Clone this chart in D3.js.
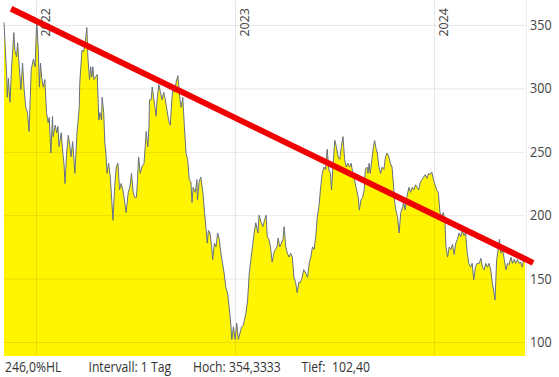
<!DOCTYPE html>
<html>
<head>
<meta charset="utf-8">
<script src="https://cdn.jsdelivr.net/npm/d3@7"></script>
<style>
body{margin:0;background:#fff;}
svg{display:block;font-family:"Open Sans",sans-serif;}
</style>
</head>
<body>
<script>
// day offset from startDate, closing value
const startDate = new Date(Date.UTC(2021, 10, 3));
const lastDay = 956;
const prices = [
[0,352],[5,309],[6,293],[8,308],[11,289],[14,317],[18,344],[20,330],[23,325],[25,336],
[28,317],[31,299],[34,320],[37,299],[40,285],[43,281],[46,266],[50,315],[54,323],[57,317],
[60,353],[63,330],[65,301],[67,320],[69,309],[72,301],[75,307],[78,281],[81,273],[83,277],
[86,249],[89,278],[90,262],[94,271],[97,265],[99,270],[101,254],[105,265],[108,249],[110,241],
[112,225],[115,249],[118,263],[121,254],[123,246],[126,258],[130,233],[134,265],[138,285],[139,304],
[143,330],[146,329],[149,336],[152,348],[154,324],
[157,307],[159,317],[161,309],[163,317],[165,307],[168,309],[171,311],[174,275],[176,281],[179,275],
[180,293],[183,281],[185,257],[187,249],[189,233],[192,241],[195,230],[198,210],[200,196],[203,222],
[206,238],[209,241],[212,220],[215,225],[218,220],[221,212],[224,202],[228,218],[231,222],[234,233],
[237,218],[240,214],[243,214],[245,228],[247,246],[250,233],[253,238],[257,241],[259,254],[261,266],
[264,254],[266,270],[267,291],[270,291],[272,301],[275,291],[277,285],[279,278],[281,291],[284,303],
[287,297],[290,291],[293,297],[296,291],[299,283],[302,275],[305,271],[308,291],[310,301],[313,297],
[316,305],[319,310],
[323,291],[325,285],[328,293],[331,270],[334,249],[337,244],[340,228],[343,226],[345,210],[347,222],
[351,218],[354,228],[355,212],[358,226],[361,230],[365,218],[368,202],[371,188],[373,178],[375,188],
[378,186],[381,175],[383,165],[386,178],[389,175],[392,186],[395,181],[398,170],[401,162],[404,154],
[407,143],[410,139],[413,128],[416,115],[418,102],[421,112],[424,102],[427,115],[430,102],[433,107],
[436,112],[439,113],[441,117],[444,123],[447,133],[450,154],[453,165],[456,175],[459,186],[462,194],
[466,186],[468,200],[472,194],[475,191],[478,196],[481,200],
[483,183],[486,181],[489,175],[492,163],[495,170],[498,173],[501,175],[503,182],[506,175],[509,178],
[512,181],[514,191],[517,175],[520,170],[523,167],[526,170],[529,167],[532,151],[535,147],[538,139],
[541,147],[544,147],[547,151],[550,157],[554,154],[557,151],[560,162],[563,167],[566,175],[569,173],
[572,183],[575,199],[578,207],[581,222],[584,233],[587,238],[590,236],[593,252],[596,236],[599,233],
[601,220],[604,241],[607,259],[610,254],[613,246],[616,244],[619,254],[622,262],[625,244],[628,238],
[631,241],[634,238],[637,241],[640,233],
[643,228],[646,222],[650,214],[652,204],[655,212],[658,214],[661,220],[663,236],[666,238],[668,233],
[670,241],[672,233],[675,244],[678,254],[680,259],[683,252],[685,249],[688,238],[691,233],[694,238],
[697,236],[700,246],[703,249],[706,246],[709,241],[712,238],[715,222],[717,210],[719,204],[722,199],
[725,186],[728,202],[732,207],[733,212],[736,204],[739,214],[743,222],[746,218],[749,222],[752,220],
[755,224],[758,222],[761,220],[764,226],[767,228],[770,230],[773,232],[776,229],[779,233],[782,232],
[785,234],[788,228],[791,224],[794,220],[797,218],[800,202],[803,199],
[806,202],[809,196],[811,175],[814,167],[817,175],[820,173],[823,177],[826,169],[829,178],[832,181],
[835,186],[838,183],[841,188],[844,184],[847,186],[850,170],[853,162],[856,159],[859,162],[862,149],
[865,159],[868,162],[872,162],[875,166],[878,159],[881,157],[884,162],[887,159],[890,162],[893,157],
[896,147],[899,139],[901,133],[904,165],[907,173],[909,181],[912,170],[915,173],[918,165],[921,157],
[924,162],[927,161],[930,167],[933,162],[936,165],[939,162],[942,165],[945,162],[948,163],[951,159],
[954,167],[956,165]
];
const trendLine = [[13,362.8],[971,162.4]];
const yearTicks = ["2022","2023","2024"];
const valueTicks = [100,150,200,250,300,350];
const footerTexts = ["246,0%HL","Intervall: 1 Tag","Hoch: 354,3333","Tief:","102,40"];

const width = 559, height = 377;
const left = 4, right = 525, bottom = 356;

const svg = d3.select("body").append("svg")
    .attr("width", width)
    .attr("height", height);

const day = d => d3.utcDay.offset(startDate, d);

const x = d3.scaleUtc()
    .domain([startDate, day(lastDay)])
    .range([left, right]);

const y = d3.scaleLinear()
    .domain([100, 350])
    .range([342, 25]);

const area = d3.area()
    .x(d => x(day(d[0])))
    .y0(bottom)
    .y1(d => y(d[1]));

const line = d3.line()
    .x(d => x(day(d[0])))
    .y(d => y(d[1]));

svg.append("path")
    .datum(prices)
    .attr("d", area)
    .attr("fill", "#fff500");

// grid on top of the fill, so it shows faintly inside the yellow
svg.append("g")
    .selectAll("line")
    .data(valueTicks)
    .enter().append("line")
    .attr("x1", left).attr("x2", right + 1)
    .attr("y1", d => y(d) + 0.5).attr("y2", d => y(d) + 0.5)
    .attr("stroke", "rgba(0,0,0,0.09)");

svg.append("g")
    .selectAll("line")
    .data(yearTicks)
    .enter().append("line")
    .attr("x1", d => Math.round(x(d3.utcParse("%Y")(d))) + 0.5)
    .attr("x2", d => Math.round(x(d3.utcParse("%Y")(d))) + 0.5)
    .attr("y1", 0).attr("y2", bottom)
    .attr("stroke", "rgba(0,0,0,0.09)");

svg.append("line")
    .attr("x1", right + 1.5).attr("x2", right + 1.5)
    .attr("y1", 0).attr("y2", bottom)
    .attr("stroke", "rgba(0,0,0,0.07)");

svg.append("path")
    .datum(prices)
    .attr("d", line)
    .attr("fill", "none")
    .attr("stroke", "#66707e")
    .attr("stroke-width", 1);

svg.append("g")
    .selectAll("text")
    .data(yearTicks)
    .enter().append("text")
    .attr("transform", d => "translate(" + (x(d3.utcParse("%Y")(d)) + 14) + ",8) rotate(-90)")
    .attr("text-anchor", "end")
    .attr("font-size", 12.5)
    .attr("fill", "#444")
    .text(d => d);

svg.append("g")
    .selectAll("g")
    .data(valueTicks)
    .enter().append("g")
    .attr("transform", d => "translate(530," + (y(d) + 5) + ") scale(0.9,1)")
    .append("text")
    .attr("font-size", 14)
    .attr("fill", "#444")
    .text(d => d);

const footerX = [5, 88.5, 193, 301.5, 332];
svg.append("g")
    .selectAll("g")
    .data(footerTexts)
    .enter().append("g")
    .attr("transform", (d, i) => "translate(" + footerX[i] + ",372) scale(0.84,1)")
    .append("text")
    .attr("font-size", 14.5)
    .attr("fill", "#333")
    .text(d => d);

svg.append("path")
    .datum(trendLine)
    .attr("d", line)
    .attr("fill", "none")
    .attr("stroke", "#f00000")
    .attr("stroke-width", 6);
</script>
</body>
</html>
